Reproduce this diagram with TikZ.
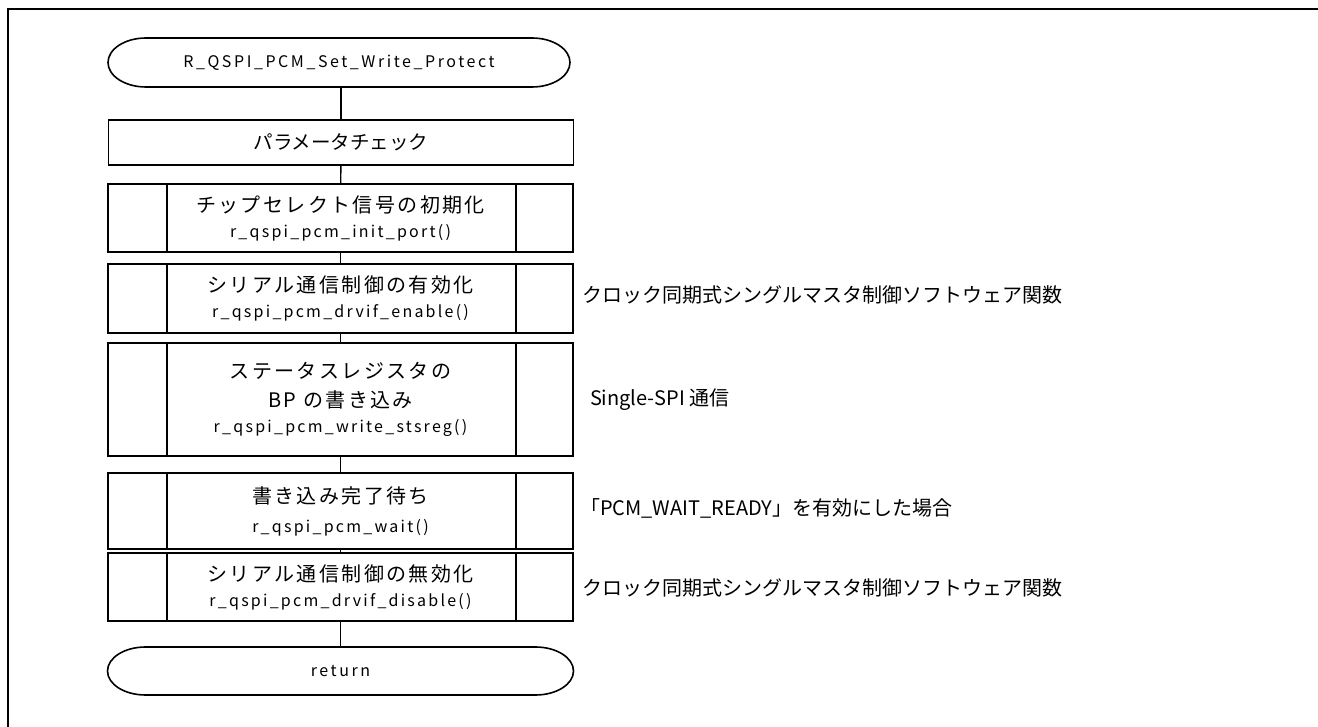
\documentclass[tikz,border=0pt]{standalone}
\usepackage{fontspec}
\setmainfont{Noto Sans CJK JP}
\newfontfamily\boxjp[LetterSpace=12]{Noto Sans CJK JP}
\newfontfamily\codefnt[LetterSpace=14]{Noto Sans CJK JP}
\newfontfamily\termfnt[LetterSpace=16]{Noto Sans CJK JP}
\newcommand{\code}[1]{{\codefnt\fontsize{16}{18}\selectfont #1}}
\begin{document}
\begin{tikzpicture}[x=1pt,y=-1pt,
  every node/.style={inner sep=0pt, outer sep=0pt},
  proc/.style={draw, line width=1.6pt, minimum width=465pt, align=center,
    font=\boxjp\fontsize{20}{29}\selectfont},
  sub/.style={proc},
  conn/.style={line width=1.4pt},
  note/.style={anchor=west, font=\fontsize{20}{22}\selectfont},
  term/.style={font=\termfnt\fontsize{16}{18}\selectfont},
  frame/.style={line width=2.6pt}
]
\useasboundingbox (0,0) rectangle (1318,727);
% outer frame (top and left edges visible)
\draw[frame] (8,727) -- (8,9) -- (1318,9);

% start terminal
\node[term, minimum width=462pt, minimum height=49pt] (start) at (339,62.5) {R\_QSPI\_PCM\_Set\_Write\_Protect};
\draw[line width=1.6pt] ([xshift=38pt]start.north west) -- ([xshift=-38pt]start.north east)
  arc[start angle=90, end angle=-90, x radius=38pt, y radius=24.5pt]
  -- ([xshift=38pt]start.south west)
  arc[start angle=270, end angle=90, x radius=38pt, y radius=24.5pt];

% parameter check
\node[proc, minimum height=45pt, font=\fontsize{19.5}{22}\selectfont] (param) at (341,142.5) {パラメータチェック};

% sub-process boxes
\node[sub, minimum height=68pt] (b1) at (340.5,218) {チップセレクト信号の初期化\\[-4pt]\code{r\_qspi\_pcm\_init\_port()}};
\node[sub, minimum height=69pt] (b2) at (340.5,298.5) {シリアル通信制御の有効化\\[-4pt]\code{r\_qspi\_pcm\_drvif\_enable()}};
\node[sub, minimum height=113pt] (b3) at (340.5,399.5) {ステータスレジスタの\\[0pt]BP の書き込み\\[-4pt]\code{r\_qspi\_pcm\_write\_stsreg()}};
\node[sub, minimum height=76pt] (b4) at (340.5,511) {書き込み完了待ち\\[0pt]\code{r\_qspi\_pcm\_wait()}};
\node[sub, minimum height=68pt] (b5) at (340.5,587) {シリアル通信制御の無効化\\[-4pt]\code{r\_qspi\_pcm\_drvif\_disable()}};
\foreach \b in {b1,b2,b3,b4,b5}{
  \draw[line width=1.6pt] ([xshift=59pt]\b.north west) -- ([xshift=59pt]\b.south west);
  \draw[line width=1.6pt] ([xshift=-57pt]\b.north east) -- ([xshift=-57pt]\b.south east);
}

% return terminal
\node[term, minimum width=466pt, minimum height=48pt] (ret) at (340.5,671) {return};
\draw[line width=1.6pt] ([xshift=38pt]ret.north west) -- ([xshift=-38pt]ret.north east)
  arc[start angle=90, end angle=-90, x radius=38pt, y radius=24pt]
  -- ([xshift=38pt]ret.south west)
  arc[start angle=270, end angle=90, x radius=38pt, y radius=24pt];

% connectors
\draw[conn] (start.south -| param.north) -- (param.north);
\draw[conn] (param) -- (b1);
\draw[conn] (b1) -- (b2);
\draw[conn] (b2) -- (b3);
\draw[conn] (b3) -- (b4);
\draw[conn] (b4) -- (b5);
\draw[conn] (b5) -- (ret);

% annotations
\node[note] (n1) at (582,295) {クロック同期式シングルマスタ制御ソフトウェア関数};
\node[note] (n2) at (590,400) {Single-SPI 通信};
\node[note] (n3) at (580,508) {「PCM\_WAIT\_READY」を有効にした場合};
\node[note] (n4) at (582,588) {クロック同期式シングルマスタ制御ソフトウェア関数};
\end{tikzpicture}
\end{document}
